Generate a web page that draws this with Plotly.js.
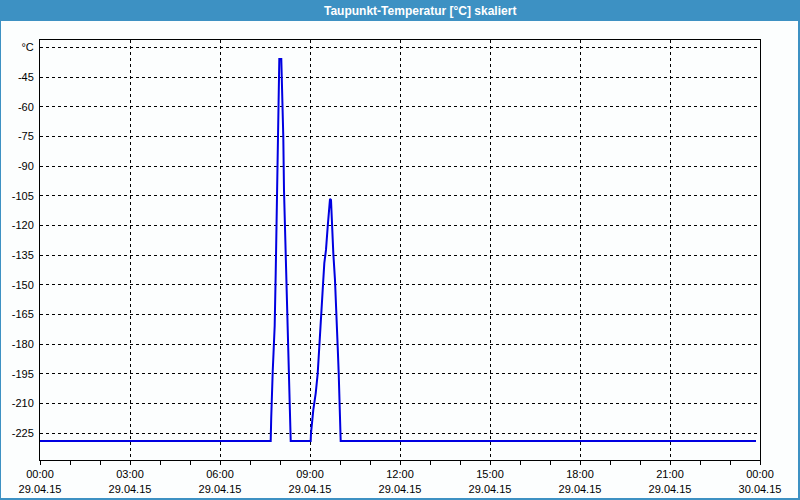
<!DOCTYPE html>
<html>
<head>
<meta charset="utf-8">
<script src="https://cdn.plot.ly/plotly-3.0.1.min.js"></script>
<style>html,body{margin:0;padding:0;background:#fcfefe;}#chart{width:800px;height:500px;}</style>
</head>
<body>
<div id="chart"></div>
<script>
// time in hours since 29.04.15 00:00
const hours = [0, 7.69, 7.707, 7.723, 7.757, 7.79, 7.823, 7.857, 7.89, 7.933, 7.977, 8.043, 8.067, 8.083, 8.11, 8.133, 8.177, 8.223, 8.267, 8.31, 8.357,
  9.023, 9.033, 9.11, 9.19, 9.257, 9.333, 9.367, 9.423, 9.477, 9.533, 9.59, 9.643, 9.667, 9.7, 9.733, 9.777, 9.833, 9.89, 9.923, 9.957, 10.0, 10.023, 23.867];
const dewPoint = [-228.9, -228.9, -217.3, -205.7, -193.9, -182.4, -170.6, -144, -117.2, -63, -35.8, -35.8, -49, -62.4, -75.2, -102, -127.3, -152.5, -177.8, -203.1, -228.9,
  -228.9, -225, -213.2, -204.8, -194.7, -177.8, -167.7, -152.5, -139, -132.3, -120.5, -107, -106.5, -107, -120.5, -134, -147.5, -164.3, -181.2, -194.7, -214.9, -228.9, -228.9];

const xTickVals = [0, 3, 6, 9, 12, 15, 18, 21, 24];
const xTickTimes = ['00:00', '03:00', '06:00', '09:00', '12:00', '15:00', '18:00', '21:00', '00:00'];
const xTickDates = ['29.04.15', '29.04.15', '29.04.15', '29.04.15', '29.04.15', '29.04.15', '29.04.15', '29.04.15', '30.04.15'];
const yTickVals = [-30, -45, -60, -75, -90, -105, -120, -135, -150, -165, -180, -195, -210, -225];
const yTickText = ['°C', '-45', '-60', '-75', '-90', '-105', '-120', '-135', '-150', '-165', '-180', '-195', '-210', '-225'];
const chartTitle = 'Taupunkt-Temperatur [°C] skaliert';

const W = 720, H = 420, L = 40, T = 40;
const px = v => (v - L) / W;       // pixel x -> paper
const py = v => 1 - (v - T) / H;   // pixel y -> paper

const blue = '#3d91c3';
const trace = {
  x: hours, y: dewPoint, type: 'scatter', mode: 'lines',
  line: {color: '#0000e1', width: 2}, hoverinfo: 'skip'
};

const layout = {
  width: 800, height: 500,
  margin: {l: 40, r: 40, t: 40, b: 40},
  paper_bgcolor: '#fcfefe', plot_bgcolor: '#fcfefe',
  showlegend: false,
  font: {family: 'Liberation Sans, Arial, sans-serif', size: 11, color: '#000'},
  xaxis: {
    range: [0, 24], tickmode: 'array', tickvals: xTickVals,
    ticktext: xTickTimes.map((t, i) => t + '<br>' + xTickDates[i]),
    showgrid: true, gridcolor: '#000', griddash: 'dot', gridwidth: 1,
    showline: true, linecolor: '#000', linewidth: 1, mirror: true,
    ticks: 'outside', ticklen: 4, tickcolor: '#000', tickwidth: 1,
    minor: {tickmode: 'linear', tick0: 0, dtick: 1, ticks: 'outside', ticklen: 4, tickcolor: '#000', showgrid: false},
    zeroline: false, fixedrange: true,
    tickfont: {family: 'Liberation Sans, Arial, sans-serif', size: 11, color: '#000'}
  },
  yaxis: {
    range: [-238.5, -26.16], tickmode: 'array', tickvals: yTickVals, ticktext: yTickText,
    showgrid: true, gridcolor: '#000', griddash: 'dot', gridwidth: 1,
    showline: true, linecolor: '#000', linewidth: 1, mirror: true,
    ticks: '', zeroline: false, fixedrange: true, ticklabelstandoff: 3,
    tickfont: {family: 'Liberation Sans, Arial, sans-serif', size: 11, color: '#000'}
  },
  shapes: [
    {type: 'rect', xref: 'paper', yref: 'paper', x0: px(0), x1: px(800), y0: py(21), y1: py(0), fillcolor: blue, line: {width: 0}, layer: 'above'},
    {type: 'rect', xref: 'paper', yref: 'paper', x0: px(0), x1: px(1), y0: py(500), y1: py(0), fillcolor: blue, line: {width: 0}},
    {type: 'rect', xref: 'paper', yref: 'paper', x0: px(798), x1: px(800), y0: py(500), y1: py(0), fillcolor: blue, line: {width: 0}},
    {type: 'rect', xref: 'paper', yref: 'paper', x0: px(0), x1: px(800), y0: py(500), y1: py(498), fillcolor: blue, line: {width: 0}}
  ],
  annotations: [
    {text: '<b>' + chartTitle + '</b>', xref: 'paper', yref: 'paper', x: px(420), y: py(10.5),
     xanchor: 'center', yanchor: 'middle', showarrow: false,
     font: {family: 'Liberation Sans, Arial, sans-serif', size: 12, color: '#fff'}}
  ]
};

Plotly.newPlot('chart', [trace], layout, {displayModeBar: false, staticPlot: true});
</script>
</body>
</html>
